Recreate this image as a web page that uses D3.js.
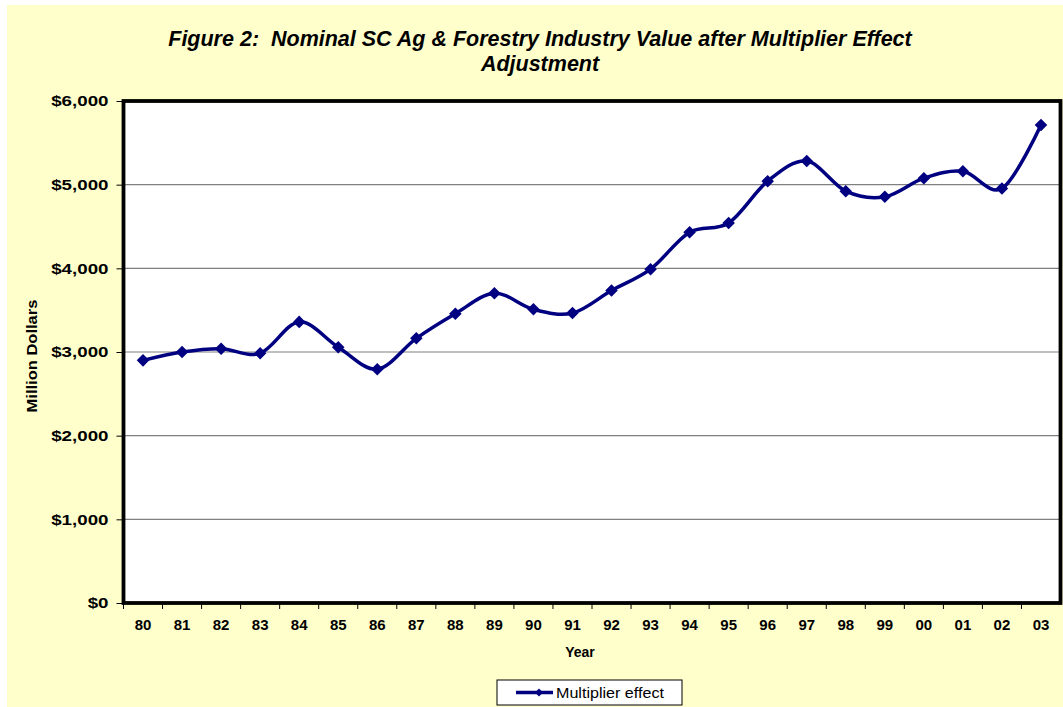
<!DOCTYPE html>
<html>
<head>
<meta charset="utf-8">
<script src="https://cdn.jsdelivr.net/npm/d3@7"></script>
<style>
  body { margin: 0; background: #ffffff; }
  svg { display: block; font-family: "Liberation Sans", Arial, sans-serif; }
</style>
</head>
<body>
<div id="chart-container"></div>
<script>
const years = ['80', '81', '82', '83', '84', '85', '86', '87', '88', '89', '90', '91',
  '92', '93', '94', '95', '96', '97', '98', '99', '00', '01', '02', '03'];
const multiplierValues = [2900, 3000, 3040, 2985, 3360, 3058, 2795, 3163, 3458, 3702, 3510, 3465,
  3735, 3990, 4432, 4542, 5042, 5282, 4922, 4855, 5078, 5160, 4955, 5712];
const yTicks = [0, 1000, 2000, 3000, 4000, 5000, 6000];
const seriesName = 'Multiplier effect';

const WIDTH = 1063, HEIGHT = 707;
const plot = {left: 123.5, right: 1060.5, top: 101, bottom: 603};

const svg = d3.select('#chart-container')
  .append('svg')
    .attr('width', WIDTH)
    .attr('height', HEIGHT);

// chart area background
svg.append('rect')
  .attr('x', 7).attr('y', 5)
  .attr('width', WIDTH - 7).attr('height', HEIGHT - 5)
  .attr('fill', '#ffffcc');

const escalaX = d3.scaleBand()
  .domain(years)
  .range([plot.left, plot.right]);

const escalaY = d3.scaleLinear()
  .domain([0, 6000])
  .range([plot.bottom, plot.top]);

// plot background
svg.append('rect')
  .attr('x', plot.left).attr('y', plot.top)
  .attr('width', plot.right - plot.left)
  .attr('height', plot.bottom - plot.top)
  .attr('fill', '#ffffff');

// gridlines
svg.append('g')
  .selectAll('line')
  .data(yTicks.filter(d => d > 0 && d < 6000))
  .join('line')
    .attr('x1', plot.left).attr('x2', plot.right)
    .attr('y1', d => escalaY(d)).attr('y2', d => escalaY(d))
    .attr('stroke', '#808080')
    .attr('stroke-width', 1.2);

// title
const title = svg.append('text')
  .attr('text-anchor', 'middle')
  .attr('font-size', 21.5)
  .attr('font-weight', 'bold')
  .attr('font-style', 'italic')
  .attr('fill', '#000');
title.append('tspan').attr('x', 540).attr('y', 46)
  .style('white-space', 'pre')
  .text('Figure 2:  Nominal SC Ag & Forestry Industry Value after Multiplier Effect');
title.append('tspan').attr('x', 540).attr('y', 71).text('Adjustment');

// y axis
const yScaleX = 1.25;
const yAxis = svg.append('g')
  .attr('transform', `translate(${plot.left}, 0)`)
  .call(d3.axisLeft(escalaY)
    .tickValues(yTicks)
    .tickSize(7)
    .tickPadding(8)
    .tickFormat(d => '$' + d3.format(',')(d)));
yAxis.select('.domain').remove();
yAxis.selectAll('line').attr('stroke', '#000');
yAxis.selectAll('text')
  .attr('font-size', 15)
  .attr('font-weight', 'bold')
  .attr('font-family', '"Liberation Sans", Arial, sans-serif')
  .attr('fill', '#000')
  .attr('transform', `scale(${yScaleX}, 1)`)
  .attr('x', -15 / yScaleX);

// x axis
const xAxis = svg.append('g')
  .attr('transform', `translate(0, ${plot.bottom})`)
  .call(d3.axisBottom(escalaX).tickSize(0).tickPadding(16));
xAxis.select('.domain').remove();
xAxis.selectAll('text')
  .attr('font-size', 15)
  .attr('font-weight', 'bold')
  .attr('font-family', '"Liberation Sans", Arial, sans-serif')
  .attr('fill', '#000');

// x tick marks at category boundaries
svg.append('g')
  .selectAll('line')
  .data(years)
  .join('line')
    .attr('x1', d => escalaX(d)).attr('x2', d => escalaX(d))
    .attr('y1', plot.bottom).attr('y2', plot.bottom + 6)
    .attr('stroke', '#000');

// plot border
svg.append('rect')
  .attr('x', plot.left).attr('y', plot.top)
  .attr('width', plot.right - plot.left)
  .attr('height', plot.bottom - plot.top)
  .attr('fill', 'none')
  .attr('stroke', '#000')
  .attr('stroke-width', 3.8);

// axis titles
svg.append('text')
  .attr('x', 580).attr('y', 657)
  .attr('text-anchor', 'middle')
  .attr('font-size', 14)
  .attr('font-weight', 'bold')
  .text('Year');

svg.append('text')
  .attr('transform', 'translate(37, 356) rotate(-90) scale(1.18, 1)')
  .attr('text-anchor', 'middle')
  .attr('font-size', 14)
  .attr('font-weight', 'bold')
  .text('Million Dollars');

// series line
const cx = (d, i) => escalaX(years[i]) + escalaX.bandwidth() / 2;
const linea = d3.line()
  .x(cx)
  .y(d => escalaY(d))
  .curve(d3.curveCardinal.tension(0));

svg.append('path')
  .datum(multiplierValues)
  .attr('d', linea)
  .attr('fill', 'none')
  .attr('stroke', '#000080')
  .attr('stroke-width', 3.5);

const diamond = d3.symbol().type(d3.symbolDiamond2).size(100);
svg.append('g')
  .selectAll('path')
  .data(multiplierValues)
  .join('path')
    .attr('transform', (d, i) => `translate(${cx(d, i)}, ${escalaY(d)})`)
    .attr('d', diamond)
    .attr('fill', '#000080');

// legend
const legend = svg.append('g').attr('transform', 'translate(497, 680)');
legend.append('rect')
  .attr('width', 185).attr('height', 25)
  .attr('fill', '#ffffff')
  .attr('stroke', '#000')
  .attr('stroke-width', 1);
legend.append('line')
  .attr('x1', 19).attr('x2', 56)
  .attr('y1', 12.5).attr('y2', 12.5)
  .attr('stroke', '#000080')
  .attr('stroke-width', 3.5);
legend.append('path')
  .attr('transform', 'translate(42, 12.5)')
  .attr('d', d3.symbol().type(d3.symbolDiamond2).size(40))
  .attr('fill', '#000080');
legend.append('text')
  .attr('transform', 'translate(59, 18) scale(1.15, 1)')
  .attr('font-size', 14)
  .text(seriesName);
</script>
</body>
</html>
